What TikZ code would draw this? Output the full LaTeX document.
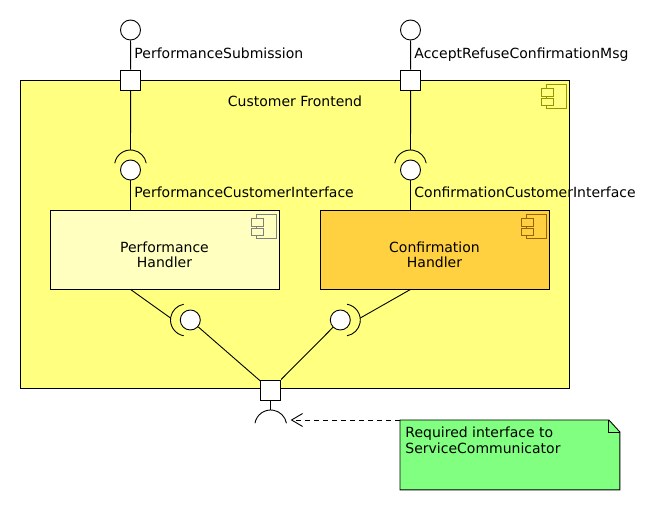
\documentclass[tikz,border=0pt]{standalone}
\usepackage{fontspec}
\setmainfont{DejaVu Sans}
\usetikzlibrary{arrows.meta}
\definecolor{frontfill}{RGB}{255,255,128}
\definecolor{perffill}{RGB}{255,255,192}
\definecolor{conffill}{RGB}{255,208,64}
\definecolor{notefill}{RGB}{128,255,128}
\definecolor{fronticon}{RGB}{150,150,0}
\definecolor{perficon}{RGB}{128,128,128}
\definecolor{conficon}{RGB}{150,100,0}
\newcommand{\compglyph}[3]{%
  \draw[#2] ([shift={(-23,5)}]#1) rectangle ([shift={(-3,29)}]#1);
  \draw[#2, fill=#3] ([shift={(-28,9)}]#1) rectangle ([shift={(-16,16.5)}]#1);
  \draw[#2, fill=#3] ([shift={(-28,19)}]#1) rectangle ([shift={(-16,26)}]#1);}

\begin{document}
\begin{tikzpicture}[x=1pt, y=-1pt, line width=0.9pt,
    every node/.style={font=\fontsize{14}{15}\selectfont},
    portbox/.style={draw, fill=white, minimum size=20pt, inner sep=0},
    lolly/.style={draw, circle, fill=white, minimum size=20pt, inner sep=0},
    lbl/.style={anchor=base west, inner sep=0},
    handler/.style={draw, minimum width=229pt, minimum height=79pt, inner sep=0},
    hlabel/.style={align=center, inner sep=0}]
    \useasboundingbox (0,0) rectangle (670,510);

    \node[draw, fill=frontfill, minimum width=549pt, minimum height=308pt, inner sep=0] (frontend) at (294.5,234) {};
    \node[anchor=base, inner sep=0] (frontlabel) at (295,107) {Customer Frontend};
    \compglyph{frontend.north east}{fronticon}{frontfill}

    \node[handler, fill=perffill] (perf) at (164.5,249.5) {};
    \node[hlabel] (perflabel) at (164.5,255) {Performance\\Handler};
    \compglyph{perf.north east}{perficon}{perffill}
    \node[handler, fill=conffill] (conf) at (434.5,249.5) {};
    \node[hlabel] (conflabel) at (434.5,255) {Confirmation\\Handler};
    \compglyph{conf.north east}{conficon}{conffill}

    \node[lolly] (subball) at (130.5,30) {};
    \node[portbox] (subport) at (130.7,80) {};
    \node[lolly] (perfball) at (130.5,170) {};
    \node[lolly] (accball) at (410.5,30) {};
    \node[portbox] (accport) at (410.7,80) {};
    \node[lolly] (confball) at (410.5,170) {};
    \node[lolly] (leftball) at (190.3,320) {};
    \node[lolly] (rightball) at (340.3,320) {};
    \node[portbox] (servport) at (270.7,390) {};

    \node[lbl] (sublabel) at (134,59) {PerformanceSubmission};
    \node[lbl] (perfifc) at (134,198) {PerformanceCustomerInterface};
    \node[lbl] (acclabel) at (414,59) {AcceptRefuseConfirmationMsg};
    \node[lbl] (confifc) at (414,198) {ConfirmationCustomerInterface};

    \coordinate (perfsock) at (130.5,150);
    \coordinate (confsock) at (410.5,150);
    \coordinate (leftsock) at (170.5,318);
    \coordinate (rightsock) at (360.3,318);
    \coordinate (servsock) at (270.7,410);
    \coordinate (req) at (290.7,420);

    \draw ([shift={(130.5,166)}]190:16) arc (190:350:16);
    \draw ([shift={(410.5,166)}]190:16) arc (190:350:16);
    \draw ([shift={(186.5,320)}]100:16) arc (100:260:16);
    \draw ([shift={(344.3,320)}]-80:16) arc (-80:80:16);
    \draw ([shift={(270.7,426)}]190:16) arc (190:350:16);

    \draw (subball) -- (subport);
    \draw (subport) -- (perfsock);
    \draw (perfball) -- (perfball |- perf.north);
    \draw (accball) -- (accport);
    \draw (accport) -- (confsock);
    \draw (confball) -- (confball |- conf.north);
    \draw (perfball |- perf.south) -- (leftsock);
    \draw (confball |- conf.south) -- (rightsock);
    \draw (leftball) -- (servport);
    \draw (rightball) -- (servport);
    \draw (servport) -- (servsock);

    \node[minimum width=219pt, minimum height=69pt, inner sep=0, anchor=north west] (note) at (400,420) {};
    \draw[fill=notefill] (note.north west) -- ([xshift=-11pt]note.north east) -- ([yshift=-12pt]note.north east) -- (note.south east) -- (note.south west) -- cycle;
    \draw ([xshift=-11pt]note.north east) -- ([shift={(-11,12)}]note.north east) -- ([yshift=-12pt]note.north east);
    \node[align=left, inner sep=0, anchor=north west, font=\fontsize{14}{16}\selectfont] (notetext) at (405,426) {Required interface to\\ServiceCommunicator};
    \draw[dash pattern=on 5pt off 4pt, -{Straight Barb[length=11pt, width=13pt]}] (note.north west) -- (req);
\end{tikzpicture}
\end{document}
